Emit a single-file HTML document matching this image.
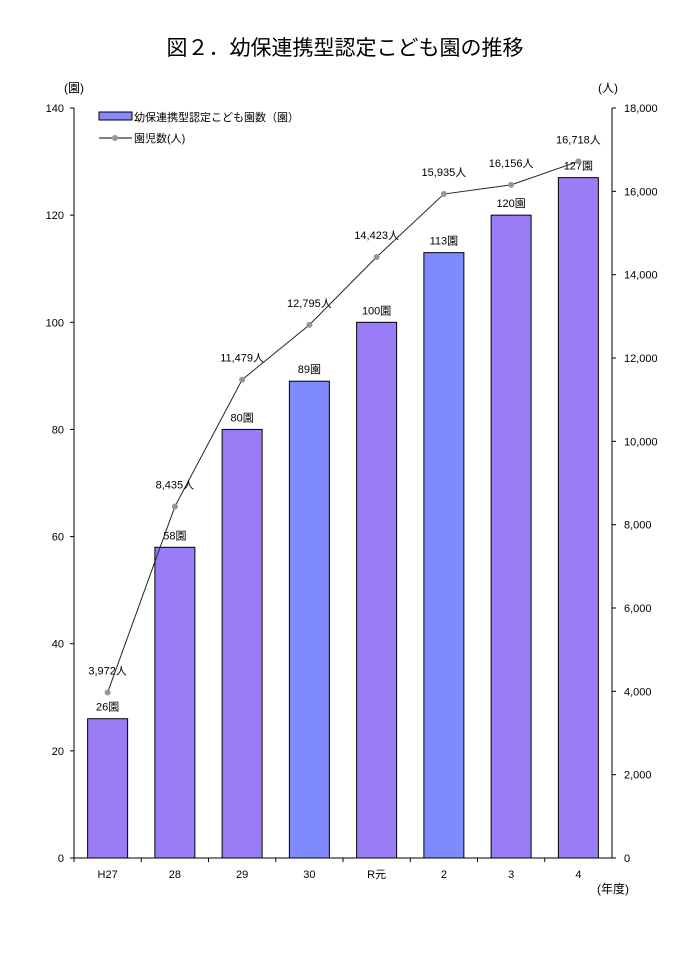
<!DOCTYPE html>
<html><head><meta charset="utf-8"><style>
body{margin:0;background:#fff;}
svg text{font-family:"Liberation Sans","Noto Sans CJK JP",sans-serif;}
</style></head><body>
<svg id="c" width="691" height="949" xmlns="http://www.w3.org/2000/svg">
<text x="345" y="55" text-anchor="middle" font-size="21">図２．幼保連携型認定こども園の推移</text>
<text x="64" y="92" font-size="12">(園)</text>
<text x="598" y="92" font-size="12">(人)</text>
<text x="597" y="893" font-size="12">(年度)</text>
<g id="plot"></g>
<g>
<rect x="99" y="112" width="33" height="8" fill="#8888ff" stroke="#000" stroke-width="1"/>
<text x="134" y="121" font-size="11">幼保連携型認定こども園数（園）</text>
<line x1="99" y1="138" x2="132" y2="138" stroke="#000"/>
<circle cx="115" cy="138" r="3" fill="#8a9a9a"/>
<text x="134" y="142" font-size="11">園児数(人)</text>
</g>
</svg>
<script>
const categories=["H27","28","29","30","R元","2","3","4"];
const facilities=[26,58,80,89,100,113,120,127];
const children=[3972,8435,11479,12795,14423,15935,16156,16718];
const leftTicks=[0,20,40,60,80,100,120,140];
const rightTicks=[0,2000,4000,6000,8000,10000,12000,14000,16000,18000];
const blueIdx=[3,5];
const NS="http://www.w3.org/2000/svg";
const g=document.getElementById("plot");
const X0=74,X1=612,Y0=858,Y1=108;
const bw=(X1-X0)/categories.length;
const yL=v=>Y0-(v/140)*(Y0-Y1);
const yR=v=>Y0-(v/18000)*(Y0-Y1);
const xc=i=>X0+bw*(i+0.5);
function mk(t,a){const e=document.createElementNS(NS,t);for(const k in a)e.setAttribute(k,a[k]);g.appendChild(e);return e;}
// bars
facilities.forEach((v,i)=>{
 const r=mk("rect",{x:xc(i)-20,y:yL(v),width:40,height:Y0-yL(v),fill:blueIdx.includes(i)?"#7f8aff":"#9a7df6",stroke:"#000","stroke-width":1});
 
 
 const t=mk("text",{x:xc(i),y:yL(v)-8,"text-anchor":"middle","font-size":11});
 t.textContent=v+"園";
 
 
});
// axes
const ax=mk("path",{d:`M${X0},${Y1}V${Y0}H${X1}V${Y1}`,fill:"none",stroke:"#000"});


leftTicks.forEach(v=>{
 const t=mk("text",{x:64,y:yL(v)+4,"text-anchor":"end","font-size":11});
 t.textContent=v;
 
 
 const l=mk("line",{x1:X0-4,x2:X0,y1:yL(v),y2:yL(v),stroke:"#000"});
 
 
});
rightTicks.forEach(v=>{
 const t=mk("text",{x:624,y:yR(v)+4,"font-size":11});
 t.textContent=v.toLocaleString("en-US");
 
 
 const l=mk("line",{x1:X1,x2:X1+4,y1:yR(v),y2:yR(v),stroke:"#000"});
 
 
});
categories.forEach((c,i)=>{
 const t=mk("text",{x:xc(i),y:878,"text-anchor":"middle","font-size":11});
 t.textContent=c;
 
 
 const l=mk("line",{x1:X0+bw*i,x2:X0+bw*i,y1:Y0,y2:Y0+4,stroke:"#000"});
 
 
});
// line
const ln=mk("polyline",{points:children.map((v,i)=>xc(i)+","+yR(v)).join(" "),fill:"none",stroke:"#222","stroke-width":1});


children.forEach((v,i)=>{
 const p=mk("circle",{cx:xc(i),cy:yR(v),r:3,fill:"#8a9a9a"});
 
 
 const t=mk("text",{x:xc(i),y:yR(v)-18,"text-anchor":"middle","font-size":11});
 t.textContent=v.toLocaleString("en-US")+"人";
 
 
});
</script>
</body></html>
